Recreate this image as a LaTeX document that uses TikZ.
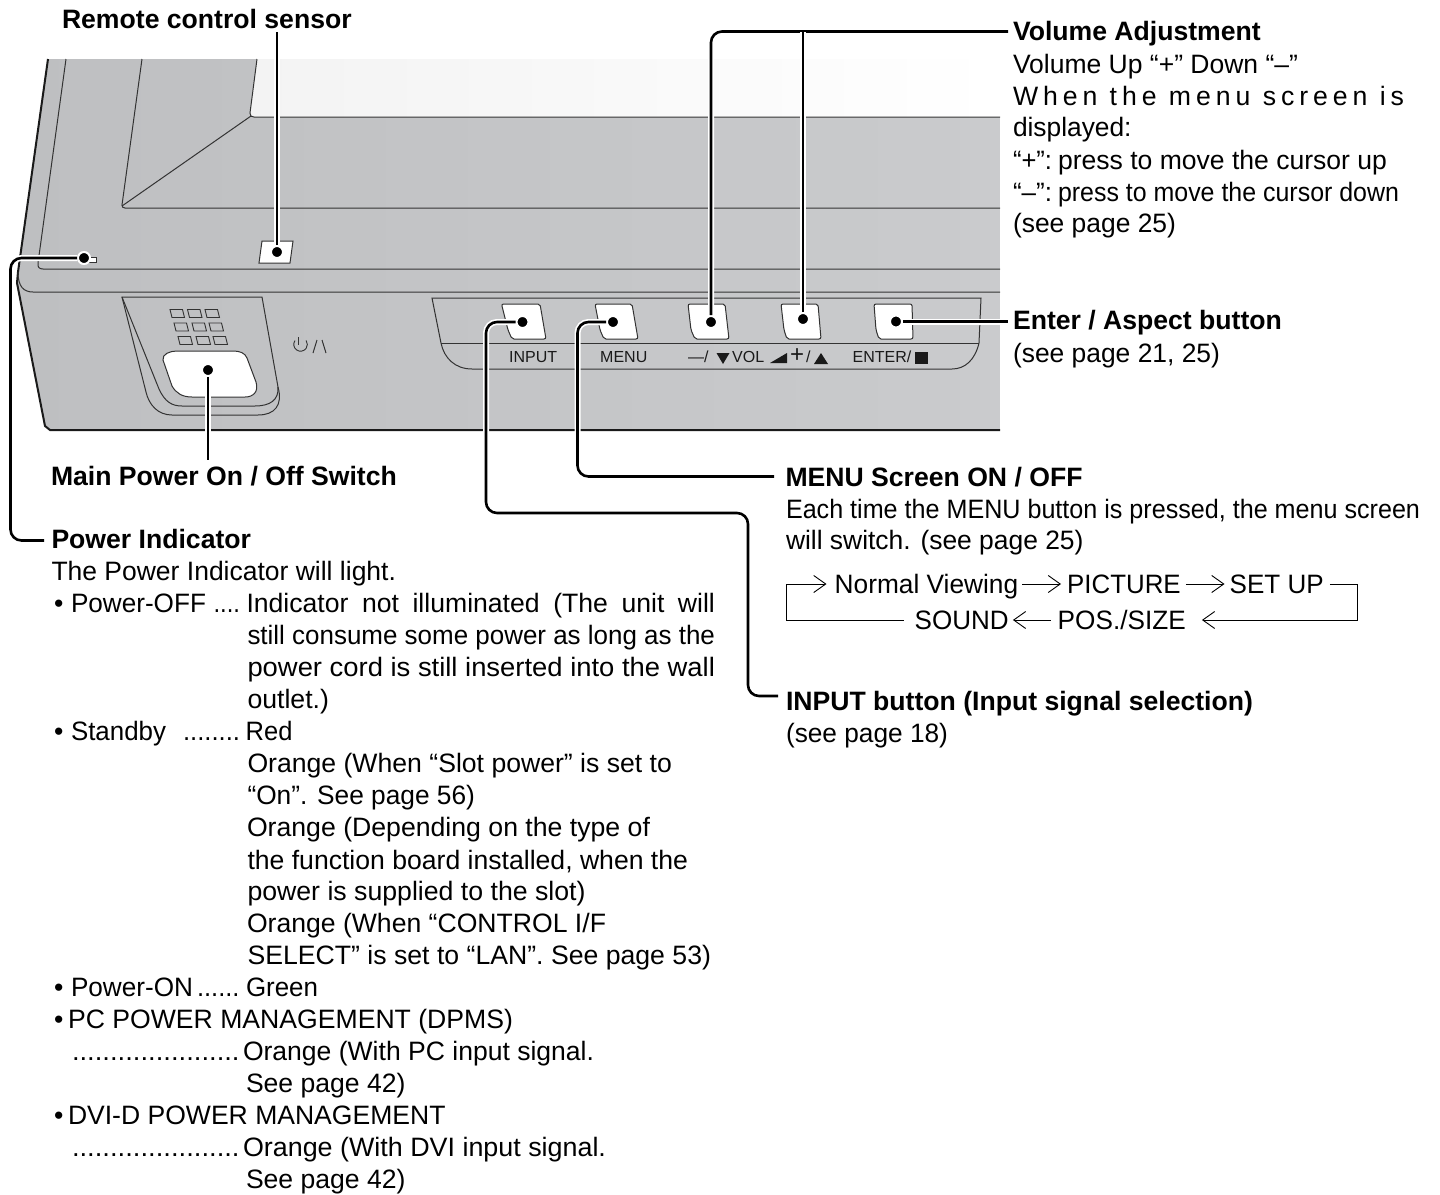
\documentclass[tikz,border=0pt]{standalone}
\usepackage{graphicx}
\usepackage{fontspec}
\setmainfont{Liberation Sans}
\usetikzlibrary{arrows.meta}
\definecolor{inkc}{HTML}{1A1A1A}
\definecolor{edgec}{HTML}{333333}
\definecolor{bodyl}{HTML}{BEBFC1}
\definecolor{bodyr}{HTML}{CACBCD}
\definecolor{glassl}{HTML}{F3F3F3}
\tikzset{
  txt/.style={anchor=base west,inner sep=0pt,outer sep=0pt,font=\fontsize{26.6}{32}\selectfont,text=black},
  boldtxt/.style={txt,font=\fontsize{26.6}{32}\bfseries\selectfont},
  smalltxt/.style={anchor=base west,inner sep=0pt,font=\fontsize{16}{18}\selectfont,text=inkc},
  flownode/.style={anchor=base west,inner sep=0pt,font=\fontsize{26.6}{32}\selectfont,text height=19pt,text depth=0pt},
  flowline/.style={draw=black,line width=0.9pt},
  flowarrow/.style={flowline,-{Straight Barb[length=12pt,width=17pt,line width=0.9pt]}},
  thin edge/.style={draw=edgec,line width=1pt},
  body edge/.style={draw=inkc,line width=2pt},
  whitepart/.style={fill=white,draw=edgec,line width=1pt},
  dotnode/.style={circle,fill=black,draw=white,line width=2pt,minimum size=12pt,inner sep=0pt},
  halo/.style={draw=white,line width=6pt,rounded corners=11pt},
  lead/.style={draw=black,line width=2.6pt,rounded corners=11pt},
  vent/.style={fill=none,draw=edgec,line width=0.9pt},
}
% name, left, baseline, right, text: a line fitted to its measured width
\newcommand{\tf}[5]{\pgfmathsetmacro{\fitw}{#4-#2}\node[txt] (#1) at (#2,#3) {\resizebox{\fitw pt}{\height}{#5}};}
\newcommand{\ventbox}[2]{\draw[vent] (#1,#2) -- ++(12.5,0) -- ++(2,8) -- ++(-12.5,0) -- cycle;}
\newcommand{\conn}[1]{\draw[halo] #1; \draw[lead] #1;}
\begin{document}
\begin{tikzpicture}[x=1pt,y=-1pt]
\useasboundingbox (0,0) rectangle (1440,1194);
% body
\shade[left color=bodyl,right color=bodyr] (48,59) -- (1000,59) -- (1000,430) -- (50,430) -- (45,426) -- (17,283) -- (18,272) -- cycle;
\shade[left color=glassl,right color=white] (257,59) -- (1000,59) -- (1000,117) -- (253,117) -- (250,113) -- cycle;
\draw[body edge] (48,59) -- (18,272) -- (17,283) -- (45,426) -- (50,430) -- (1000,430);
\draw[thin edge] (18,272) .. controls (18,287) and (24,292) .. (33,292) -- (1000,292);
\draw[thin edge] (66,59) -- (38,263) .. controls (37.5,267) and (39,269) .. (43,269) -- (1000,269);
\draw[thin edge] (142,59) -- (122,205) .. controls (122,207) and (123,208) .. (125,208) -- (1000,208);
\draw[thin edge] (122,206) -- (251,116);
\draw[thin edge] (257,59) -- (250,113) .. controls (250,116) and (251,117) .. (254,117) -- (1000,117);
% sensor and indicator
\draw[whitepart] (262,241) -- (293,241) -- (290,263) -- (259,263) -- cycle;
\draw[whitepart] (88,257) -- (96,257) -- (96,262) -- (88,262) -- cycle;
% power switch recess
\draw[thin edge] (122,297) -- (262,297) -- (278,387) .. controls (283,405) and (275,415) .. (258,415) -- (172,415) .. controls (158,415) and (149,405) .. (146,392) -- cycle;
\draw[thin edge] (122,297) -- (159,389) .. controls (165,402) and (172,406) .. (182,406) -- (255,406) .. controls (270,406) and (279,400) .. (278,387);
\ventbox{170}{309.5}\ventbox{187.5}{309.5}\ventbox{205}{309.5}
\ventbox{174}{323}\ventbox{192}{323}\ventbox{209}{323}
\ventbox{178}{336.5}\ventbox{196}{336.5}\ventbox{213}{336.5}
\draw[whitepart] (163,360) .. controls (162,354) and (170,351) .. (177,351) -- (233,351) .. controls (240,351) and (245,353) .. (247,358) -- (256,382) .. controls (259,392) and (253,397) .. (245,397) -- (192,397) .. controls (182,397) and (176,393) .. (172,386) -- cycle;
% power symbol
\draw[edgec,line width=0.9pt] (295,340.5) arc[start angle=215,end angle=-35,radius=6.8];
\draw[edgec,line width=0.9pt] (298,337) -- (298,345);
\draw[edgec,line width=1pt] (313,353) -- (317,340) (322,340) -- (326,353);
% button panel
\draw[thin edge] (432,298) -- (981,298) -- (979,343) .. controls (975,360) and (965,369) .. (952,369) -- (472,369) .. controls (455,369) and (444,358) .. (441,343) -- cycle;
\draw[thin edge] (441,343) -- (979,343);
\foreach \a/\b/\c/\d/\e/\f in {501.5/540/546/542/512/508, 595/632/638/634/604/600, 688/725/729/725/695/691, 781/818/821/817/787/784, 874/912/913/909/879/876}{
  \draw[whitepart,rounded corners=2pt] (\a,304) -- (\b,304) -- (\c,339) -- (\e,339) -- (\f,330) -- cycle;
}
\node[smalltxt] (lInput) at (509,362.5) {INPUT};
\node[smalltxt] (lMenu) at (600,362.5) {MENU};
\node[smalltxt] (lMinus) at (688,362.5) {—/};
\fill[inkc] (716.5,353) -- (729.5,353) -- (723,364) -- cycle;
\node[smalltxt] (lVol) at (732,362.5) {VOL};
\fill[inkc] (770,363) -- (787,353) -- (787,363) -- cycle;
\node[smalltxt,font=\fontsize{24}{26}\selectfont] (lPlus) at (790,362.5) {+};
\node[smalltxt] (lSlash) at (806,362.5) {/};
\fill[inkc] (814,364) -- (828,364) -- (821,353) -- cycle;
\node[smalltxt] (lEnter) at (852.5,362.5) {ENTER/};
\fill[inkc] (915,352) rectangle (928,364);
% dots
\node[dotnode] (dSensor) at (277,252) {};
\node[dotnode] (dLed) at (84,258) {};
\node[dotnode] (dSwitch) at (208,370) {};
\node[dotnode] (dInput) at (522.5,322) {};
\node[dotnode] (dMenu) at (613,322) {};
\node[dotnode] (dVolDn) at (711,322) {};
\node[dotnode] (dVolUp) at (803,319) {};
\node[dotnode] (dEnter) at (896,321.5) {};
% free ends
\coordinate (eSensor) at (277,32);
\coordinate (eSwitch) at (208,460);
\coordinate (p1) at (10.5,258); \coordinate (p2) at (10.5,540.5); \coordinate (p3) at (44,540.5);
\coordinate (v1) at (711,31.5); \coordinate (v2) at (1008,31.5); \coordinate (v3) at (803,31.5);
\coordinate (eEnter) at (1008,321.5);
\coordinate (m1) at (577.5,322); \coordinate (m2) at (577.5,476.5); \coordinate (m3) at (774,476.5);
\coordinate (i1) at (486,322); \coordinate (i2) at (486,513); \coordinate (i3) at (748,513); \coordinate (i4) at (748,696); \coordinate (i5) at (778,696);
\conn{(dSensor) -- (eSensor)}
\conn{(dSwitch) -- (eSwitch)}
\conn{(dLed) -- (p1) -- (p2) -- (p3)}
\conn{(dVolDn) -- (v1) -- (v2)}
\conn{(dVolUp) -- (v3)}
\conn{(dEnter) -- (eEnter)}
\conn{(dMenu) -- (m1) -- (m2) -- (m3)}
\conn{(dInput) -- (i1) -- (i2) -- (i3) -- (i4) -- (i5)}
% bold labels
\node[boldtxt] (tSensor) at (62,28) {Remote control sensor};
\node[boldtxt] (tSwitch) at (51,485) {Main Power On / Off Switch};
\node[boldtxt] (tPower) at (51.5,548.5) {Power Indicator};
\node[boldtxt] (tVolume) at (1013,40.5) {Volume Adjustment};
\node[boldtxt] (tEnter) at (1013,329) {Enter / Aspect button};
\node[boldtxt] (tMenu) at (785.5,486) {MENU Screen ON / OFF};
\node[boldtxt] (tInput) at (786,710) {INPUT button (Input signal selection)};
% right column
\tf{r1}{1013}{73}{1298}{Volume Up “+” Down “–”}
\tf{r2}{1013}{105}{1404}{\addfontfeature{LetterSpace=18.5}When the menu screen is}
\tf{r3}{1013}{136.5}{1131.5}{displayed:}
\tf{r4a}{1013}{169}{1052}{“+”:}
\tf{r4}{1058}{169}{1387}{press to move the cursor up}
\tf{r5a}{1013}{201}{1052}{“–”:}
\tf{r5}{1058}{201}{1399}{press to move the cursor down}
\tf{r6}{1013}{232.5}{1176}{(see page 25)}
\tf{r7}{1013}{362.5}{1220}{(see page 21, 25)}
\tf{r8}{786}{518}{1420}{Each time the MENU button is pressed, the menu screen}
\tf{r9}{786}{549}{1083.5}{will switch. (see page 25)}
\tf{r10}{786}{742}{948}{(see page 18)}
% left column
\tf{a1}{51.5}{580}{396}{The Power Indicator will light.}
\node[txt] (b1) at (54,612.5) {•};
\tf{a2}{71}{612.5}{206}{Power-OFF}
\tf{a2d}{213.5}{612.5}{240}{....}
\node[txt] (a3) at (246.5,612.5) {\makebox[468.5pt][s]{Indicator not illuminated (The unit will}};
\tf{a4}{247.5}{644.5}{715}{still consume some power as long as the}
\tf{a5}{247.5}{676.5}{715}{power cord is still inserted into the wall}
\tf{a6}{247.5}{708}{329}{outlet.)}
\node[txt] (b2) at (54,740) {•};
\tf{a7}{71}{740}{166}{Standby}
\tf{a7d}{183}{740}{240}{........}
\tf{a8}{245.7}{740}{292.5}{Red}
\tf{a9}{247.5}{772}{672}{Orange (When “Slot power” is set to}
\tf{a10}{247.5}{804}{475}{“On”. See page 56)}
\tf{a11}{247}{836.5}{650}{Orange (Depending on the type of}
\tf{a12}{247.5}{869}{688}{the function board installed, when the}
\tf{a13}{247.5}{900.5}{585.5}{power is supplied to the slot)}
\tf{a14}{247}{932.5}{606}{Orange (When “CONTROL I/F}
\tf{a15}{247.5}{964}{711}{SELECT” is set to “LAN”. See page 53)}
\node[txt] (b3) at (54,996.5) {•};
\tf{a16}{71}{996.5}{193}{Power-ON}
\tf{a16d}{197}{996.5}{239.5}{......}
\tf{a17}{246}{996.5}{318}{Green}
\node[txt] (b4) at (54,1028) {•};
\tf{a18}{68}{1028}{513}{PC POWER MANAGEMENT (DPMS)}
\tf{a19}{72}{1060}{239.5}{......................}
\tf{a20}{243}{1060}{594}{Orange (With PC input signal.}
\tf{a21}{246}{1092.5}{405.5}{See page 42)}
\node[txt] (b5) at (54,1124) {•};
\tf{a22}{68}{1124}{445.5}{DVI-D POWER MANAGEMENT}
\tf{a23}{72}{1156.5}{239.5}{......................}
\tf{a24}{243}{1156.5}{606}{Orange (With DVI input signal.}
\tf{a25}{246}{1188}{405.5}{See page 42)}
% menu flow
\node[flownode] (nv) at (834.5,593.5) {\resizebox{183.5pt}{\height}{Normal Viewing}};
\node[flownode] (pic) at (1067,593.5) {\resizebox{113.5pt}{\height}{PICTURE}};
\node[flownode] (setup) at (1229.5,593.5) {\resizebox{94pt}{\height}{SET UP}};
\node[flownode] (sound) at (914.5,629.5) {\resizebox{94pt}{\height}{SOUND}};
\node[flownode] (pos) at (1057.5,629.5) {\resizebox{128pt}{\height}{POS./SIZE}};
\coordinate (f1) at (786,620); \coordinate (f2) at (786,584);
\coordinate (f3) at (1357,584); \coordinate (f4) at (1357,620);
\draw[flowarrow,shorten <=4pt,shorten >=6pt] (nv.east) -- (pic.west);
\draw[flowarrow,shorten <=5pt,shorten >=5pt] (pic.east) -- (setup.west);
\draw[flowarrow,shorten <=6pt,shorten >=16pt] (setup.east) -- (f3) -- (f4) -- (pos.east);
\draw[flowarrow,shorten <=7pt,shorten >=4pt] (pos.west) -- (sound.east);
\draw[flowarrow,shorten <=11pt,shorten >=8pt] (sound.west) -- (f1) -- (f2) -- (nv.west);
\end{tikzpicture}
\end{document}
